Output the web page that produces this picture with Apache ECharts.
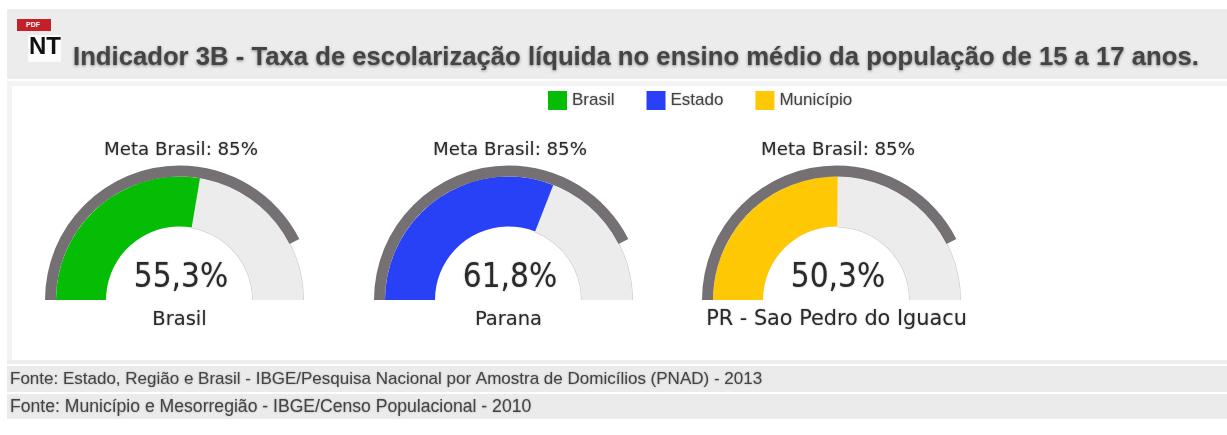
<!DOCTYPE html>
<html><head><meta charset="utf-8">
<style>html,body{margin:0;padding:0;background:#fff}#c{width:1227px;height:435px}</style>
<script src="https://cdn.jsdelivr.net/npm/echarts@6/dist/echarts.min.js"></script>
</head><body><div id="c"></div>
<script>
const legendNames = ['Brasil','Estado','Município'];
const places = ['Brasil','Parana','PR - Sao Pedro do Iguacu'];
const values = [55.3,61.8,50.3];
const metaValues = [85,85,85];
const colors = ['#05bd05','#2840f6','#ffc805'];
const centersX = [179.5,508.5,836.5];
const titleText = 'Indicador 3B - Taxa de escolarização líquida no ensino médio da população de 15 a 17 anos.';
const sources = ['Fonte: Estado, Região e Brasil - IBGE/Pesquisa Nacional por Amostra de Domicílios (PNAD) - 2013','Fonte: Município e Mesorregião - IBGE/Censo Populacional - 2010'];

const chart = echarts.init(document.getElementById('c'),null,{renderer:'canvas'});
const cy = 300, dejavu = '"DejaVu Sans"', arial = '"Liberation Sans"';
const hidden = {axisTick:{show:false},splitLine:{show:false},axisLabel:{show:false},pointer:{show:false},anchor:{show:false}};
const fmt = v => v.toFixed(1).replace('.',',') + '%';
const soft = {textShadowColor:'rgba(0,0,0,.3)',textShadowBlur:2};
const series = [];
places.forEach((p,i)=>{
  [[124.5,1],[73.5,1]].forEach(([r,w])=>{
    series.push({type:'gauge',center:[centersX[i],cy],radius:r,startAngle:180,endAngle:0,min:0,max:100,
      silent:true,animation:false,z:2,...hidden,title:{show:false},detail:{show:false},
      axisLine:{roundCap:false,lineStyle:{width:w,color:[[values[i]/100,'rgba(0,0,0,0)'],[1,'#d2d2d2']]}},
      data:[]});
  });
  series.push({type:'gauge',name:legendNames[i],center:[centersX[i],cy],radius:123.5,startAngle:180,endAngle:0,min:0,max:100,
    silent:true,animation:false,z:3,...hidden,itemStyle:{color:colors[i]},
    axisLine:{roundCap:false,lineStyle:{width:50,color:[[1,'#ececec']]}},
    progress:{show:true,width:50,roundCap:false,itemStyle:{color:colors[i]}},
    title:{show:true,offsetCenter:[0,20],fontFamily:dejavu,fontSize:i===2?20.8:19.5,color:'#2a2a2a',...soft},
    detail:{show:true,offsetCenter:[1.5,-22],fontFamily:'"DejaVu Sans Condensed","DejaVu Sans"',fontSize:33,fontWeight:'normal',color:'#2a2a2a',formatter:fmt,valueAnimation:false,...soft},
    data:[{value:values[i],name:p}]});
  series.push({type:'gauge',name:'Meta '+p,center:[centersX[i],cy],radius:134.5,startAngle:180,endAngle:0,min:0,max:100,
    silent:true,animation:false,z:4,...hidden,
    axisLine:{roundCap:false,lineStyle:{width:11,color:[[1,'rgba(0,0,0,0)']]}},
    progress:{show:true,width:11,roundCap:false,itemStyle:{color:'#747074'}},
    title:{show:true,offsetCenter:[1.5,-150],fontFamily:dejavu,fontSize:18.2,color:'#2a2a2a',...soft},
    detail:{show:false},
    data:[{value:metaValues[i],name:'Meta Brasil: '+metaValues[i]+'%'}]});
});
const rect=(x,y,w,h,fill,z=0)=>({type:'rect',z,shape:{x,y,width:w,height:h},style:{fill},silent:true});
const text=(x,y,t,font,fill,extra={})=>({type:'text',z:5,x,y,silent:true,style:{text:t,font,fill,textVerticalAlign:'middle',...extra}});
chart.setOption({
  backgroundColor:'#fff',animation:false,
  legend:{left:543,top:86,orient:'horizontal',itemWidth:19,itemHeight:19,itemGap:32,icon:'rect',selectedMode:false,
    textStyle:{fontFamily:arial,fontSize:17,color:'#444',padding:[0,0,0,0],...soft},
    data:legendNames.map((n,i)=>({name:n,itemStyle:{color:colors[i]}}))},
  series,
  graphic:[
    rect(7,9,1220,70,'#ececec'),
    rect(7,81,1220,5,'#f3f3f3'),
    rect(7,86,5,274,'#f3f3f3'),
    rect(7,360,1220,4,'#ededed'),
    rect(7,366,1220,26,'#ebebeb'),
    rect(7,394,1220,25,'#ebebeb'),
    rect(17,19,34,12,'#c4202a'),
    text(26,25,'PDF','bold 7px '+arial,'#fff'),
    rect(28,35,33,27,'#fbfbfb'),
    text(29,47,'NT','bold 24px '+arial,'#111'),
    text(73,58,titleText,'bold 25.7px '+arial,'#444',{textShadowColor:'rgba(0,0,0,.45)',textShadowBlur:3,textShadowOffsetY:1}),
    text(10,379,sources[0],'17px '+arial,'#444',soft),
    text(10,407,sources[1],'17.6px '+arial,'#444',soft)
  ]
});
</script></body></html>
